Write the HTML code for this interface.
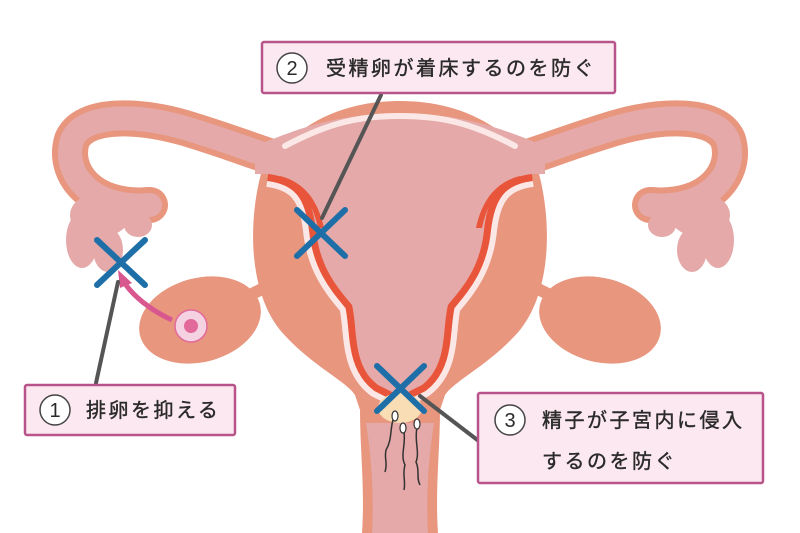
<!DOCTYPE html>
<html><head><meta charset="utf-8"><style>
html,body{margin:0;padding:0;background:#fff;}
svg{display:block}
text{font-family:"Liberation Sans","Noto Sans CJK JP",sans-serif;fill:#2a2a2a}
</style></head><body>
<svg width="800" height="533" viewBox="0 0 800 533" xmlns="http://www.w3.org/2000/svg">
<defs>
<g id="tube">
  <path d="M150,205 C90,210 62,172 72,140 C84,112 140,115 185,128 C225,140 250,150 275,158" fill="none" stroke="#e8967e" stroke-width="36" stroke-linecap="round"/>
  <path d="M150,205 C90,210 62,172 72,140 C84,112 140,115 185,128 C225,140 250,150 275,158" fill="none" stroke="#e4a9a8" stroke-width="24" stroke-linecap="round"/>
  <g fill="#e4a9a8">
    <ellipse cx="82" cy="240" rx="16" ry="28"/>
    <ellipse cx="108" cy="250" rx="15" ry="22"/>
    <ellipse cx="138" cy="225" rx="14" ry="12"/>
    <ellipse cx="145" cy="207" rx="14" ry="10"/>
    <ellipse cx="100" cy="215" rx="30" ry="22"/>
  </g>
  <path d="M240,300 L280,280" stroke="#e8967e" stroke-width="12"/>
  <ellipse cx="200" cy="320" rx="62" ry="42" transform="rotate(-15 200 320)" fill="#e8967e"/>
</g>
</defs>
<use href="#tube"/>
<use href="#tube" transform="translate(800,0) scale(-1,1)"/>
<!-- uterus body -->
<path d="M262,170 C300,118 350,101 400,101 C450,101 500,118 538,170 C552,220 552,290 520,330 C490,365 455,380 445,395 L440,410 C440,450 435,490 438,533 L362,533 C365,490 360,450 360,410 L355,395 C345,380 310,365 280,330 C248,290 248,220 262,170 Z" fill="#e8967e"/>
<!-- cavity lining strokes -->
<path id="cav" d="M268,174 C300,178 312,195 316,230 C320,270 340,290 352,305 C358,330 352,365 378,385 L400,396 L422,385 C448,365 442,330 448,305 C460,290 480,270 484,230 C488,195 500,178 532,174" fill="none" stroke="#fbe8e6" stroke-width="26" stroke-linejoin="round"/>
<path d="M268,174 C300,178 312,195 316,230 C320,270 340,290 352,305 C358,330 352,365 378,385 L400,396 L422,385 C448,365 442,330 448,305 C460,290 480,270 484,230 C488,195 500,178 532,174" fill="none" stroke="#e8553a" stroke-width="14" stroke-linejoin="round"/>
<!-- pink interior -->
<path d="M255,146 C310,124 340,114 400,114 C460,114 490,124 545,146 L545,174 L532,174 C500,178 488,195 484,230 C480,270 460,290 448,305 C442,330 448,365 422,385 L400,396 L378,385 C352,365 358,330 352,305 C340,290 320,270 316,230 C312,195 300,178 268,174 L255,174 Z" fill="#e4a9a8"/>
<!-- extra red thickness -->
<path d="M276,180 C300,185 312,200 318,228 L324,228 C318,200 304,182 280,176 Z" fill="#e8553a"/>
<path d="M524,180 C500,185 488,200 482,228 L476,228 C482,200 496,182 520,176 Z" fill="#e8553a"/>
<path d="M285,146 C330,122 360,116 400,116 C440,116 470,122 515,146" fill="none" stroke="#fbe8e6" stroke-width="6" stroke-linecap="round"/>
<!-- neck channel -->
<path d="M366,423 L434,423 C428,460 426,500 428,533 L372,533 C374,500 372,460 366,423 Z" fill="#e4a9a8"/>
<ellipse cx="400" cy="408" rx="22" ry="15" fill="#f8ddb5"/>
<!-- sperm -->
<g fill="#fff" stroke="#333" stroke-width="1.2">
<path d="M393,420 C390,430 392,440 386,450 C384,460 388,462 385,472" fill="none" stroke-width="1.5"/>
<ellipse cx="395" cy="416" rx="3" ry="5"/>
<path d="M404,432 C406,445 400,455 405,465 C402,475 406,480 404,490" fill="none" stroke-width="1.5"/>
<ellipse cx="403" cy="428" rx="3" ry="5"/>
<path d="M417,428 C414,440 420,452 416,462 C420,470 416,478 420,485" fill="none" stroke-width="1.5"/>
<ellipse cx="417" cy="424" rx="3" ry="5"/>
</g>
<!-- egg & arrow -->
<path d="M172,320 C150,310 132,295 124,282" fill="none" stroke="#d9578f" stroke-width="5"/>
<polygon points="118,270 132,283 120,288" fill="#d9578f"/>
<circle cx="191" cy="326" r="16" fill="#f4d2e2" stroke="#e26a9a" stroke-width="1.5"/>
<circle cx="191" cy="326" r="7" fill="#e26a9a"/>
<!-- leader lines -->
<g stroke="#555" stroke-width="4" stroke-linecap="round">
<line x1="381" y1="95" x2="322" y2="218"/>
<line x1="118" y1="282" x2="96" y2="383"/>
<line x1="420" y1="396" x2="480" y2="442"/>
</g>
<!-- X marks -->
<g stroke="#1e6fa8" stroke-width="6" stroke-linecap="round">
<line x1="97" y1="240" x2="145" y2="285"/><line x1="145" y1="240" x2="97" y2="285"/>
<line x1="297" y1="210" x2="345" y2="256"/><line x1="345" y1="210" x2="297" y2="256"/>
<line x1="377" y1="366" x2="424" y2="411"/><line x1="424" y1="366" x2="377" y2="411"/>
</g>
<!-- labels -->
<g fill="#fce8f0" stroke="#b8548a" stroke-width="2.5">
<rect x="262" y="42" width="353" height="51" rx="2"/>
<rect x="25" y="385" width="210" height="50" rx="2"/>
<rect x="478" y="393" width="285" height="90" rx="2"/>
</g>
<g fill="#fff" stroke="#444" stroke-width="1.5">
<circle cx="292" cy="68" r="15"/><circle cx="55" cy="410" r="15"/><circle cx="510" cy="420" r="15"/>
</g>
<g font-size="20" text-anchor="middle">
<text x="292" y="75">2</text><text x="55" y="417">1</text><text x="510" y="427">3</text>
</g>
<g font-size="20" stroke="#2a2a2a" stroke-width="0.4">
<text x="326" y="75" letter-spacing="2.5">受精卵が着床するのを防ぐ</text>
<text x="86" y="417" letter-spacing="2.5">排卵を抑える</text>
<text x="542" y="427" letter-spacing="2.5">精子が子宮内に侵入</text>
<text x="542" y="468" letter-spacing="2.5">するのを防ぐ</text>
</g>
</svg>
</body></html>
